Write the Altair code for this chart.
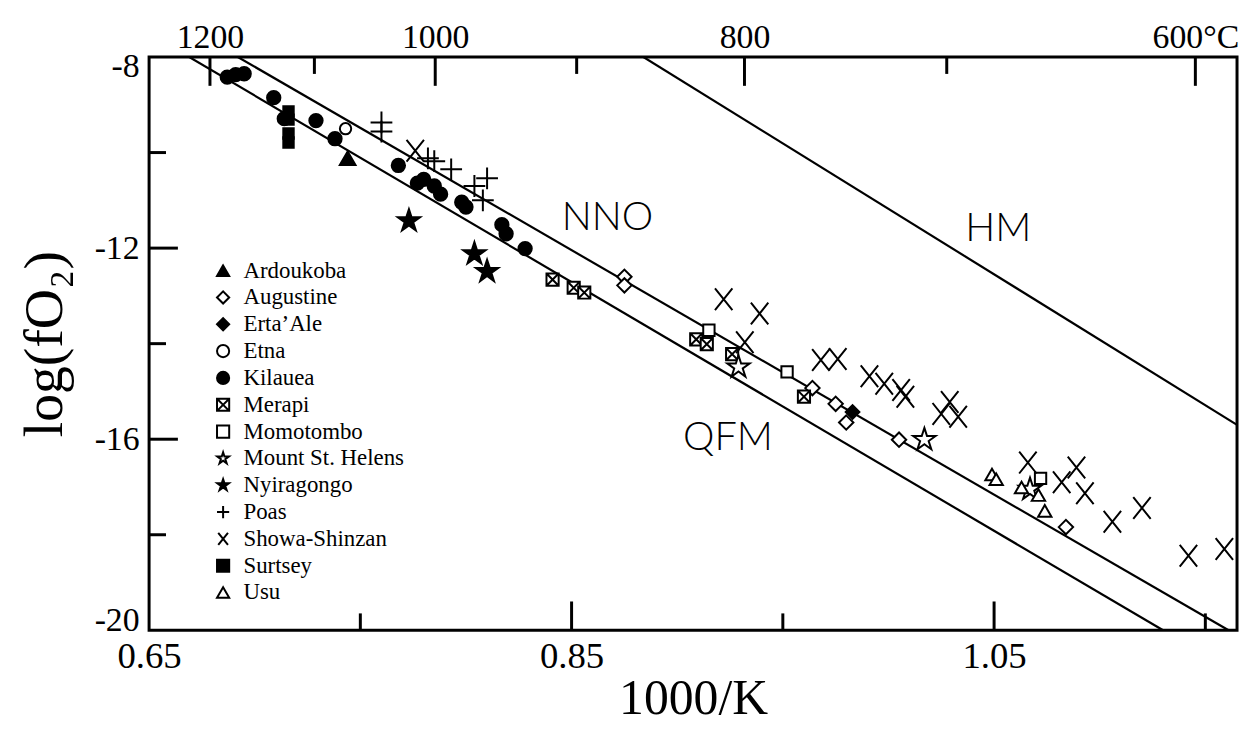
import altair as alt
import pandas as pd

# ---------------- data (1000/K , log fO2) ----------------
volcano_names = ["Ardoukoba", "Augustine", "Erta\u2019Ale", "Etna", "Kilauea", "Merapi",
                 "Momotombo", "Mount St. Helens", "Nyiragongo", "Poas", "Showa-Shinzan",
                 "Surtsey", "Usu"]

ardoukoba_x = [0.744]
ardoukoba_y = [-10.12]
augustine_x = [0.875, 0.875, 0.964, 0.975, 0.980, 1.005, 1.084]
augustine_y = [-12.60, -12.78, -14.93, -15.26, -15.65, -16.01, -17.84]
erta_ale_x = [0.983]
erta_ale_y = [-15.43]
etna_x = [0.743]
etna_y = [-9.50]
kilauea_x = [0.687, 0.691, 0.695, 0.709, 0.714, 0.729, 0.738, 0.768, 0.777, 0.780,
             0.785, 0.788, 0.798, 0.800, 0.817, 0.819, 0.828]
kilauea_y = [-8.42, -8.37, -8.35, -8.85, -9.29, -9.33, -9.71, -10.27, -10.64, -10.56,
             -10.70, -10.87, -11.04, -11.14, -11.51, -11.70, -12.01]
merapi_x = [0.841, 0.851, 0.856, 0.909, 0.914, 0.926, 0.960]
merapi_y = [-12.66, -12.83, -12.93, -13.91, -14.01, -14.22, -15.11]
momotombo_x = [0.915, 0.952, 1.072]
momotombo_y = [-13.72, -14.59, -16.82]
st_helens_x = [0.929, 1.017, 1.067]
st_helens_y = [-14.49, -16.01, -17.05]
nyiragongo_x = [0.773, 0.804, 0.810]
nyiragongo_y = [-11.43, -12.12, -12.49]
poas_x = [0.760, 0.760, 0.782, 0.785, 0.793, 0.804, 0.810, 0.808]
poas_y = [-9.37, -9.56, -10.12, -10.18, -10.35, -10.70, -10.54, -11.00]
showa_x = [0.776, 0.922, 0.939, 0.932, 0.968, 0.976, 0.991, 0.998, 1.006, 1.008, 1.025,
           1.029, 1.033, 1.066, 1.082, 1.089, 1.093, 1.106, 1.120, 1.142, 1.159]
showa_y = [-9.96, -13.07, -13.37, -13.97, -14.34, -14.32, -14.68, -14.84, -14.97, -15.11,
           -15.47, -15.22, -15.53, -16.49, -16.90, -16.59, -17.13, -17.73, -17.44, -18.44,
           -18.30]
surtsey_x = [0.716, 0.716, 0.716, 0.716]
surtsey_y = [-9.14, -9.31, -9.60, -9.79]
usu_x = [1.049, 1.051, 1.063, 1.071, 1.074]
usu_y = [-16.74, -16.84, -17.01, -17.17, -17.50]

# buffer lines
buffer_names = ["QFM", "NNO", "HM"]
qfm_x = [0.669, 1.130]
qfm_y = [-8.0, -20.0]
nno_x = [0.692, 1.161]
nno_y = [-8.0, -20.0]
hm_x = [0.884, 1.165]
hm_y = [-8.0, -15.70]
buffer_label_x = [0.924, 0.867, 1.052]
buffer_label_y = [-15.98, -11.37, -11.60]

# axes
x_labels = [0.65, 0.85, 1.05]
x_minor = [0.75, 0.95, 1.15]
x_major_ticks = [0.85, 1.05]
y_labels = [-8, -12, -16, -20]
y_major_ticks = [-12, -16]
y_minor = [-10, -14, -18]
top_major_C = [1200, 1000, 800, 600]
top_minor_C = [1100, 900, 700]

# ---------------- symbols ----------------
STAR = ("M0,-1L0.2245,-0.309L0.951,-0.309L0.363,0.118L0.588,0.809L0,0.382"
        "L-0.588,0.809L-0.363,0.118L-0.951,-0.309L-0.2245,-0.309Z")
PLUS = "M-1,0L1,0M0,-1L0,1"
XMARK = "M-0.8,-1L0.8,1M0.8,-1L-0.8,1"
BOXX = "M-1,-1L1,-1L1,1L-1,1Z M-1,-1L1,1 M1,-1L-1,1"
shape_range = ["triangle-up", "diamond", "diamond", "circle", "circle", BOXX, "square",
               STAR, STAR, PLUS, XMARK, "square", "triangle-up"]
fill_range = ["black", "white", "black", "white", "black", "white", "white", "white",
              "black", "white", "white", "black", "white"]
stroke_range = ["black"] * 13
# sizes follow the alphabetical order of the names
size_range = [250, 210, 190, 130, 180, 150, 130, 560, 560, 480, 480, 110, 180]

series = [ardoukoba_x, augustine_x, erta_ale_x, etna_x, kilauea_x, merapi_x, momotombo_x,
          st_helens_x, nyiragongo_x, poas_x, showa_x, surtsey_x, usu_x]
series_y = [ardoukoba_y, augustine_y, erta_ale_y, etna_y, kilauea_y, merapi_y, momotombo_y,
            st_helens_y, nyiragongo_y, poas_y, showa_y, surtsey_y, usu_y]
rows = []
for name, xs, ys in zip(volcano_names, series, series_y):
    for a, b in zip(xs, ys):
        rows.append({"volcano": name, "k": a, "fo2": b})
pts = pd.DataFrame(rows)

lines = pd.DataFrame(
    [{"buffer": n, "k": a, "fo2": b}
     for n, xs, ys in zip(buffer_names, [qfm_x, nno_x, hm_x], [qfm_y, nno_y, hm_y])
     for a, b in zip(xs, ys)]
)
labels = pd.DataFrame({"buffer": buffer_names, "k": buffer_label_x, "fo2": buffer_label_y})

W, H = 1095, 577
MAJ, MIN = 29, 17
SERIF = "Liberation Serif"

xscale = alt.Scale(domain=[0.65, 1.165], nice=False, zero=False)
yscale = alt.Scale(domain=[-20, -8], nice=False, zero=False)

legend_common = dict(
    title=None, orient="none", legendX=63, legendY=203.5, direction="vertical",
    labelFont=SERIF, labelFontSize=23, labelColor="black", labelLimit=400,
    rowPadding=3.0, symbolSize=150, symbolStrokeWidth=2,
    symbolOpacity=1, labelOffset=9, padding=0,
)

base_lines = alt.Chart(lines).mark_line(color="black", strokeWidth=2.2, clip=True).encode(
    x=alt.X("k:Q", scale=xscale,
            axis=alt.Axis(orient="bottom", values=x_labels, format=".2f", ticks=False,
                          domain=False, grid=False, labelFont=SERIF, labelFontSize=37,
                          labelPadding=8, labelFlush=False, labelColor="black",
                          title="1000/K", titleFont=SERIF, titleFontSize=50,
                          titleFontWeight="normal", titlePadding=0, titleColor="black")),
    y=alt.Y("fo2:Q", scale=yscale,
            axis=alt.Axis(orient="left", values=y_labels,
                          labelExpr="'-' + format(abs(datum.value), 'd')",
                          ticks=False, domain=False, grid=False, labelFont=SERIF,
                          labelFontSize=34, labelPadding=10, labelColor="black",
                          labelFlush=True, labelFlushOffset=7,
                          title="log(fO\u2082)", titleFont=SERIF, titleFontSize=56,
                          titleFontWeight="normal", titlePadding=21, titleColor="black")),
    detail="buffer:N",
)

points = alt.Chart(pts).mark_point(filled=False, strokeWidth=2, opacity=1,
                                   fillOpacity=1, strokeOpacity=1, clip=True).encode(
    x=alt.X("k:Q", scale=xscale, axis=None),
    y=alt.Y("fo2:Q", scale=yscale, axis=None),
    shape=alt.Shape("volcano:N", scale=alt.Scale(domain=volcano_names, range=shape_range),
                    legend=alt.Legend(**legend_common)),
    fill=alt.Fill("volcano:N", scale=alt.Scale(domain=volcano_names, range=fill_range),
                  legend=alt.Legend(**legend_common)),
    stroke=alt.Stroke("volcano:N", scale=alt.Scale(domain=volcano_names, range=stroke_range),
                      legend=alt.Legend(**legend_common)),
    size=alt.Size("volcano:N", scale=alt.Scale(type="ordinal", range=size_range),
                  legend=None),
)

texts = alt.Chart(labels).mark_text(font="Lato", fontSize=40, fontWeight=300,
                                    color="black", align="center",
                                    baseline="middle").encode(
    x=alt.X("k:Q", scale=xscale, axis=None),
    y=alt.Y("fo2:Q", scale=yscale, axis=None),
    text="buffer:N",
)

def xrule(vals, y0, y1):
    return alt.Chart(pd.DataFrame({"v": vals})).mark_rule(color="black", strokeWidth=3).encode(
        x=alt.X("v:Q", scale=xscale, axis=None), y=alt.value(y0), y2=alt.value(y1))

def yrule(vals, length):
    return alt.Chart(pd.DataFrame({"v": vals})).mark_rule(color="black", strokeWidth=3).encode(
        y=alt.Y("v:Q", scale=yscale, axis=None), x=alt.value(0), x2=alt.value(length))

bottom_major = xrule(x_major_ticks, H, H - MAJ)
bottom_minor = xrule(x_minor, H, H - MIN)
left_major = yrule(y_major_ticks, MAJ)
left_minor = yrule(y_minor, MIN)

top_major = alt.Chart(pd.DataFrame({"c": top_major_C})).transform_calculate(
    v="1000 / (datum.c + 273.15)"
).mark_rule(color="black", strokeWidth=3).encode(
    x=alt.X("v:Q", scale=xscale,
            axis=alt.Axis(orient="top", values=[1000 / (c + 273.15) for c in top_major_C],
                          labelExpr="format(round(1000 / datum.value - 273.15), 'd') + "
                                    "(round(1000 / datum.value - 273.15) == 600 ? '\u00b0C' : '')",
                          ticks=False, domain=False, grid=False, labelFont=SERIF,
                          labelFontSize=34, labelPadding=3, labelFlush=False,
                          labelColor="black", title=None)),
    y=alt.value(0), y2=alt.value(MAJ),
)
top_minor = alt.Chart(pd.DataFrame({"c": top_minor_C})).transform_calculate(
    v="1000 / (datum.c + 273.15)"
).mark_rule(color="black", strokeWidth=3).encode(
    x=alt.X("v:Q", scale=xscale, axis=None), y=alt.value(0), y2=alt.value(MIN),
)

chart = alt.layer(
    base_lines, texts, bottom_major, bottom_minor, left_major, left_minor,
    top_major, top_minor, points
).resolve_axis(x="independent", y="independent").properties(
    width=W, height=H,
    autosize=alt.AutoSizeParams(type="none"),
    padding={"left": 142, "top": 47, "right": 4, "bottom": 96},
    background="white",
).configure_view(
    stroke="black", strokeWidth=3
).configure_legend(
    labelFont=SERIF, labelFontSize=23, labelColor="black", symbolStrokeWidth=2,
)

chart.save("out.html", embed_options={"renderer": "svg", "actions": False})
